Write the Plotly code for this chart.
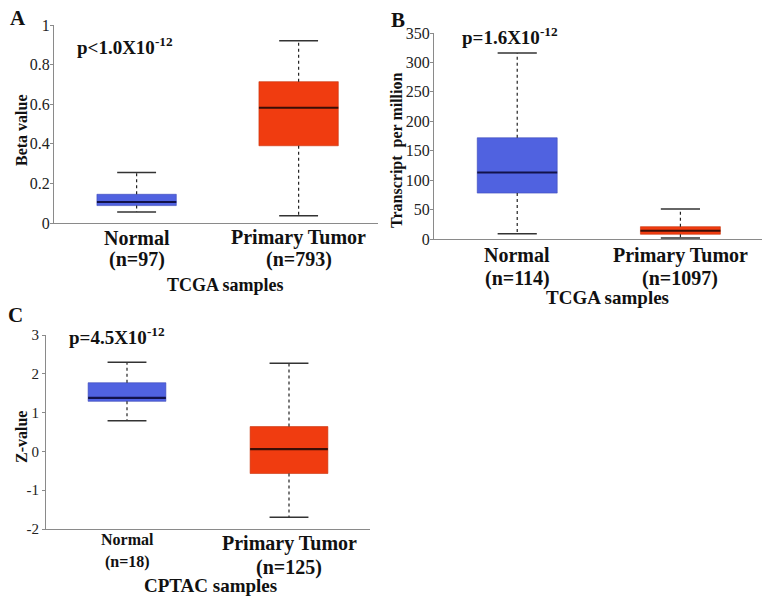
import plotly.graph_objects as go

W, H = 767, 602
FONT = "Liberation Serif"

# ---- data ----
groups = ["Normal", "Primary Tumor"]
colors = ["#5062e0", "#f03c10"]
median_colors = ["#12124a", "#3a0e06"]

# A: methylation beta value, TCGA
a_n = ["(n=97)", "(n=793)"]
a_lower = [0.056, 0.037]
a_q1 = [0.088, 0.39]
a_median = [0.106, 0.582]
a_q3 = [0.145, 0.714]
a_upper = [0.255, 0.92]
a_ticks = [0, 0.2, 0.4, 0.6, 0.8, 1]
a_ticktext = ["0", "0.2", "0.4", "0.6", "0.8", "1"]

# B: transcript per million, TCGA
b_n = ["(n=114)", "(n=1097)"]
b_lower = [9, 1.5]
b_q1 = [78, 8]
b_median = [113, 14]
b_q3 = [172, 21]
b_upper = [316, 51]
b_ticks = [0, 50, 100, 150, 200, 250, 300, 350]
b_ticktext = ["0", "50", "100", "150", "200", "250", "300", "350"]

# C: protein z-value, CPTAC
c_n = ["(n=18)", "(n=125)"]
c_lower = [0.79, -1.70]
c_q1 = [1.29, -0.57]
c_median = [1.38, 0.06]
c_q3 = [1.77, 0.64]
c_upper = [2.30, 2.27]
c_ticks = [-2, -1, 0, 1, 2, 3]
c_ticktext = ["-2", "-1", "0", "1", "2", "3"]

fig = go.Figure()


def px_x(p):
    return p / W


def px_y(p):
    return 1 - p / H


def add_panel(fig, xa, ya, lower, q1, med, q3, upper, box_w=0.49, cap_w=0.24):
    pos = list(range(len(groups)))
    fig.add_trace(go.Bar(
        x=pos, y=[b - a for a, b in zip(q1, q3)], base=q1, width=box_w,
        marker=dict(color=colors, line=dict(width=0.6, color=["#3a48b8", "#c83008"])),
        xaxis=xa, yaxis=ya, showlegend=False, hoverinfo="skip"))
    for i, p in enumerate(pos):
        # dotted whiskers
        for a, b in ((q3[i], upper[i]), (q1[i], lower[i])):
            fig.add_trace(go.Scatter(x=[p, p], y=[a, b], mode="lines",
                                     line=dict(color="#222", width=1.2, dash="dot"),
                                     xaxis=xa, yaxis=ya, showlegend=False, hoverinfo="skip"))
        # caps
        for v in (upper[i], lower[i]):
            fig.add_trace(go.Scatter(x=[p - cap_w / 2, p + cap_w / 2], y=[v, v], mode="lines",
                                     line=dict(color="#333", width=1.5),
                                     xaxis=xa, yaxis=ya, showlegend=False, hoverinfo="skip"))
        # median
        fig.add_trace(go.Scatter(x=[p - box_w / 2, p + box_w / 2], y=[med[i], med[i]], mode="lines",
                                 line=dict(color=median_colors[i], width=2.2),
                                 xaxis=xa, yaxis=ya, showlegend=False, hoverinfo="skip"))


add_panel(fig, "x", "y", a_lower, a_q1, a_median, a_q3, a_upper)
add_panel(fig, "x2", "y2", b_lower, b_q1, b_median, b_q3, b_upper)
add_panel(fig, "x3", "y3", c_lower, c_q1, c_median, c_q3, c_upper, box_w=0.48)

axis_common = dict(showline=True, linecolor="#8a8a8a", linewidth=1, showgrid=False,
                   zeroline=False, mirror=False, automargin=False)
xcommon = dict(axis_common, showticklabels=False, ticks="", range=[-0.51, 1.49], fixedrange=True)
ycommon = dict(axis_common, ticks="outside", ticklen=3, tickcolor="#8a8a8a", ticklabelstandoff=-3,
               tickfont=dict(family=FONT, size=16, color="#222"))

fig.update_layout(
    width=W, height=H,
    margin=dict(l=0, r=0, t=0, b=0, autoexpand=False),
    paper_bgcolor="white", plot_bgcolor="white",
    font=dict(family=FONT, color="#111"),
    xaxis=dict(xcommon, domain=[px_x(54), px_x(378)], anchor="y"),
    yaxis=dict(ycommon, domain=[px_y(223), px_y(25)], range=[0, 1], anchor="x",
               tickvals=a_ticks, ticktext=a_ticktext),
    xaxis2=dict(xcommon, domain=[px_x(434), px_x(762)], anchor="y2", range=[-0.51, 1.5]),
    yaxis2=dict(ycommon, domain=[px_y(239), px_y(33)], range=[0, 350], anchor="x2",
                tickvals=b_ticks, ticktext=b_ticktext),
    xaxis3=dict(xcommon, domain=[px_x(46), px_x(370)], anchor="y3", range=[-0.5, 1.5]),
    yaxis3=dict(ycommon, domain=[px_y(529), px_y(335)], range=[-2, 3], anchor="x3",
                tickvals=c_ticks, ticktext=c_ticktext, ticklabelstandoff=0,
                tickfont=dict(family=FONT, size=15, color="#222")),
)

ann = []


def label(text, x, y, xref, yref, size, yshift=0, angle=0, bold=True):
    ann.append(dict(text=f"<b>{text}</b>" if bold else text, x=x, y=y, xref=xref, yref=yref,
                    yshift=yshift, showarrow=False, textangle=angle,
                    xanchor="center", yanchor="middle",
                    font=dict(family=FONT, size=size, color="#111")))


# category labels under each panel
for i in range(2):
    label(groups[i], i, 0, "x", "y domain", 20, yshift=-15)
    label(a_n[i], i, 0, "x", "y domain", 20, yshift=-36)
    label(groups[i], i, 0, "x2", "y2 domain", 20, yshift=-16)
    label(b_n[i], i, 0, "x2", "y2 domain", 20, yshift=-39)
label(groups[0], 0, 0, "x3", "y3 domain", 16, yshift=-10)
label(c_n[0], 0, 0, "x3", "y3 domain", 16, yshift=-33)
label(groups[1], 1, 0, "x3", "y3 domain", 20, yshift=-14)
label(c_n[1], 1, 0, "x3", "y3 domain", 20, yshift=-38)

label("TCGA samples", px_x(225), px_y(285), "paper", "paper", 18)
label("TCGA samples", px_x(607), px_y(297), "paper", "paper", 19)
label("CPTAC samples", px_x(210), px_y(585), "paper", "paper", 19)

# axis titles
label("Beta value", px_x(22), px_y(130), "paper", "paper", 16, angle=-90)
label("Transcript  per million", px_x(397), px_y(150), "paper", "paper", 16, angle=-90)
label("Z-value", px_x(21), px_y(437), "paper", "paper", 16, angle=-90)

# p values
label("p<1.0X10<sup>-12</sup>", px_x(125), px_y(46), "paper", "paper", 19)
label("p=1.6X10<sup>-12</sup>", px_x(510), px_y(36), "paper", "paper", 19)
label("p=4.5X10<sup>-12</sup>", px_x(117), px_y(336), "paper", "paper", 19)

# panel letters
label("A", px_x(18), px_y(18), "paper", "paper", 21)
label("B", px_x(398), px_y(20), "paper", "paper", 21)
label("C", px_x(15), px_y(315), "paper", "paper", 21)

fig.update_layout(annotations=ann)

# drop the default 8px body margin so the figure sits at the page corner
fig.write_html("out.html", config={"displayModeBar": False},
               post_script="document.body.style.margin='0';")
